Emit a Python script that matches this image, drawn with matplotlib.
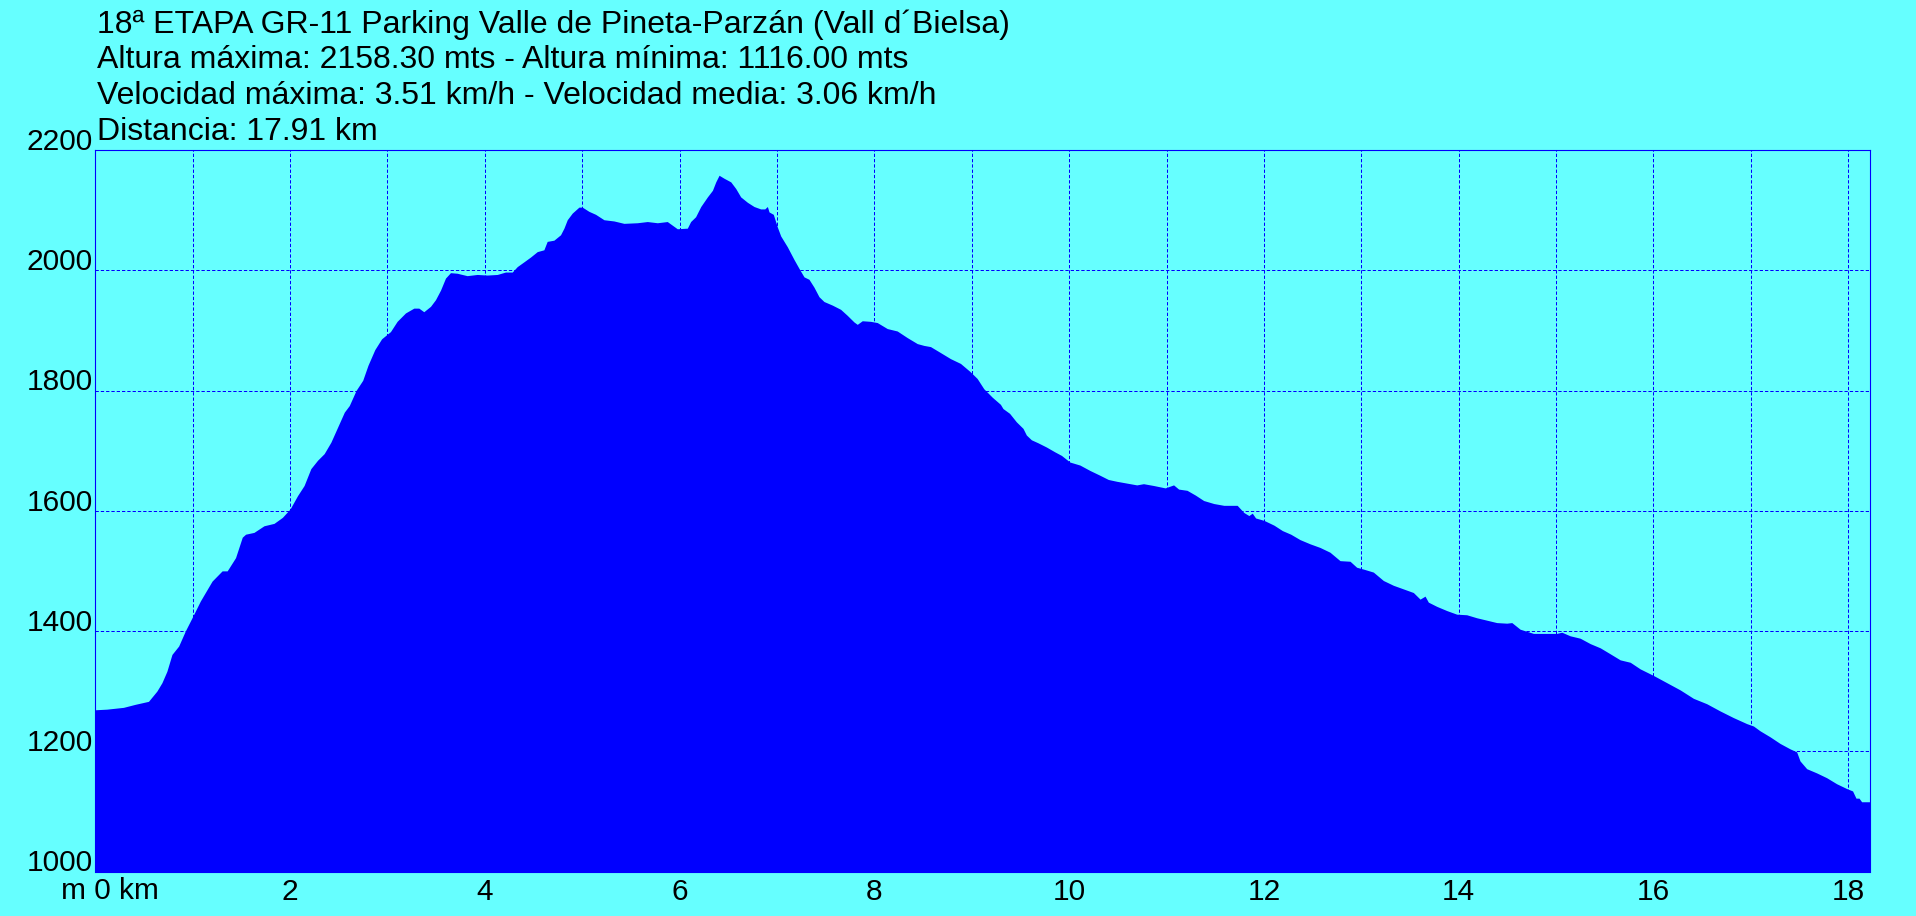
import matplotlib.pyplot as plt
from matplotlib.transforms import offset_copy

# --- Data: elevation profile ---
dist_km = [
    0.000, 0.117, 0.289, 0.409, 0.546, 0.632, 0.684, 0.735, 0.787, 0.856,
    0.924, 0.993, 1.079, 1.199, 1.302, 1.354, 1.440, 1.509, 1.543, 1.629,
    1.732, 1.835, 1.921, 2.000, 2.076, 2.144, 2.213, 2.282, 2.350, 2.419,
    2.488, 2.557, 2.608, 2.677, 2.746, 2.800, 2.870, 2.940,
    3.031, 3.099, 3.185, 3.271, 3.322, 3.373, 3.442, 3.493, 3.545, 3.596,
    3.647, 3.716, 3.818, 3.921, 4.024, 4.127, 4.212, 4.281, 4.332, 4.401,
    4.469, 4.538, 4.606, 4.640, 4.709, 4.777, 4.812, 4.846, 4.897, 4.966,
    5.000, 5.068, 5.137, 5.223, 5.325, 5.428, 5.565, 5.668, 5.771, 5.873,
    5.976, 6.079, 6.113, 6.164, 6.217, 6.285, 6.337, 6.371, 6.405, 6.456,
    6.525, 6.576, 6.627, 6.696, 6.764, 6.832, 6.874, 6.901, 6.918, 6.962,
    7.003, 7.038, 7.106, 7.174, 7.226, 7.277, 7.328, 7.379, 7.431, 7.482,
    7.568, 7.653, 7.721, 7.790, 7.824, 7.875, 7.961, 8.029, 8.132, 8.234,
    8.337, 8.440, 8.508, 8.576, 8.679, 8.781, 8.884, 8.986, 9.055, 9.123,
    9.209, 9.294, 9.320, 9.388, 9.457, 9.526, 9.560, 9.612, 9.680, 9.766,
    9.852, 9.921, 10.007, 10.110, 10.213, 10.316, 10.402, 10.488, 10.591, 10.694,
    10.763, 10.866, 10.986, 11.072, 11.124, 11.210, 11.296, 11.381, 11.485, 11.588,
    11.656, 11.725, 11.794, 11.845, 11.880, 11.914, 12.000, 12.103, 12.189, 12.275,
    12.370, 12.473, 12.575, 12.678, 12.781, 12.884, 12.952, 13.021, 13.123, 13.226,
    13.329, 13.432, 13.534, 13.603, 13.654, 13.688, 13.774, 13.877, 13.979, 14.082,
    14.185, 14.288, 14.390, 14.493, 14.545, 14.630, 14.767, 14.904, 15.007, 15.058,
    15.144, 15.247, 15.350, 15.453, 15.556, 15.658, 15.761, 15.863, 16.000, 16.137,
    16.274, 16.410, 16.547, 16.684, 16.820, 16.957, 17.026, 17.094, 17.197, 17.299,
    17.402, 17.470, 17.504, 17.573, 17.675, 17.778, 17.880, 17.983, 18.044, 18.079,
    18.110, 18.137, 18.220,
]
elev_m = [
    1269, 1270, 1273, 1278, 1283, 1300, 1314, 1333, 1361, 1375,
    1400, 1422, 1450, 1483, 1500, 1500, 1522, 1556, 1561, 1564,
    1575, 1579, 1589, 1603, 1625, 1642, 1670, 1684, 1695, 1714,
    1739, 1764, 1775, 1800, 1817, 1842, 1868, 1886,
    1898, 1915, 1929, 1937, 1937, 1931, 1940, 1951, 1967, 1987,
    1996, 1995, 1991, 1993, 1992, 1993, 1997, 1997, 2006, 2014,
    2022, 2031, 2034, 2048, 2050, 2059, 2070, 2084, 2095, 2105,
    2105, 2098, 2093, 2084, 2082, 2078, 2079, 2081, 2079, 2081,
    2069, 2070, 2081, 2089, 2106, 2122, 2133, 2147, 2158, 2153,
    2147, 2136, 2122, 2113, 2106, 2102, 2102, 2106, 2097, 2093,
    2072, 2057, 2039, 2018, 2003, 1989, 1985, 1972, 1956, 1948,
    1942, 1935, 1925, 1914, 1910, 1916, 1915, 1913, 1903, 1899,
    1888, 1878, 1875, 1873, 1863, 1853, 1845, 1831, 1820, 1803,
    1789, 1777, 1770, 1762, 1748, 1737, 1726, 1718, 1713, 1706,
    1698, 1692, 1681, 1676, 1667, 1659, 1652, 1649, 1646, 1643,
    1645, 1642, 1638, 1643, 1636, 1634, 1626, 1617, 1612, 1609,
    1609, 1609, 1597, 1592, 1596, 1588, 1584, 1576, 1567, 1561,
    1552, 1545, 1539, 1531, 1517, 1516, 1506, 1503, 1498, 1484,
    1476, 1470, 1464, 1453, 1458, 1448, 1441, 1434, 1428, 1427,
    1422, 1418, 1414, 1413, 1414, 1403, 1396, 1396, 1396, 1398,
    1392, 1388, 1379, 1372, 1362, 1352, 1348, 1337, 1326, 1314,
    1302, 1288, 1279, 1267, 1256, 1246, 1242, 1234, 1224, 1213,
    1204, 1199, 1184, 1171, 1164, 1156, 1146, 1138, 1134, 1122,
    1122, 1116, 1116,
]

title_lines = [
    "18ª ETAPA GR-11 Parking Valle de Pineta-Parzán (Vall d´Bielsa)",
    "Altura máxima: 2158.30 mts - Altura mínima: 1116.00 mts",
    "Velocidad máxima: 3.51 km/h - Velocidad media: 3.06 km/h",
    "Distancia: 17.91 km",
]
x_ticks = list(range(0, 19, 2))
x_labels = [""] + [str(v) for v in x_ticks[1:]]
y_ticks = list(range(1000, 2201, 200))

bg = "#66FFFF"
blue = "#0000FF"
plt.rcParams["font.family"] = ["Liberation Sans", "DejaVu Sans"]

# --- Plot ---
W, H = 1916, 916
fig = plt.figure(figsize=(W / 100, H / 100), dpi=100, facecolor=bg)
ax = fig.add_axes([95.3 / W, (H - 871.5) / H, (1869.7 - 95.3) / W, (871.5 - 150) / H])
ax.set_facecolor(bg)

ax.fill_between(dist_km, 1000, elev_m, color=blue, linewidth=0, zorder=2)

ax.set_xlim(0, 18.22)
ax.set_ylim(1000, 2200)
ax.set_xticks(range(0, 19), minor=True)
ax.set_xticks(x_ticks)
ax.set_xticklabels(x_labels)
ax.set_yticks(y_ticks)

ax.grid(True, which="both", axis="x", color=blue, linewidth=0.72, linestyle=(0, (3.3, 2.0)))
ax.grid(True, which="major", axis="y", color=blue, linewidth=0.72, linestyle=(0, (3.3, 2.0)))
ax.set_axisbelow(True)

ax.tick_params(axis="both", which="both", length=0, labelsize=21.5, colors="black")
ax.tick_params(axis="x", pad=5)
ax.tick_params(axis="y", pad=2)
for lbl in ax.get_yticklabels():
    lbl.set_va("baseline")

for side in ["top", "bottom", "left", "right"]:
    ax.spines[side].set_color(blue)
    ax.spines[side].set_linewidth(0.8)

# "m 0 km" label at the origin
tr = offset_copy(ax.transData, fig=fig, x=-34, y=-28, units="dots")
ax.text(0, 1000, "m 0 km", transform=tr, ha="left", va="baseline", fontsize=21.5)

# --- Header text ---
for i, line in enumerate(title_lines):
    fig.text(97 / W, 1 - (33 + i * 35.5) / H, line, ha="left", va="baseline", fontsize=23)

fig.savefig("out.png", dpi=100, facecolor=bg)
